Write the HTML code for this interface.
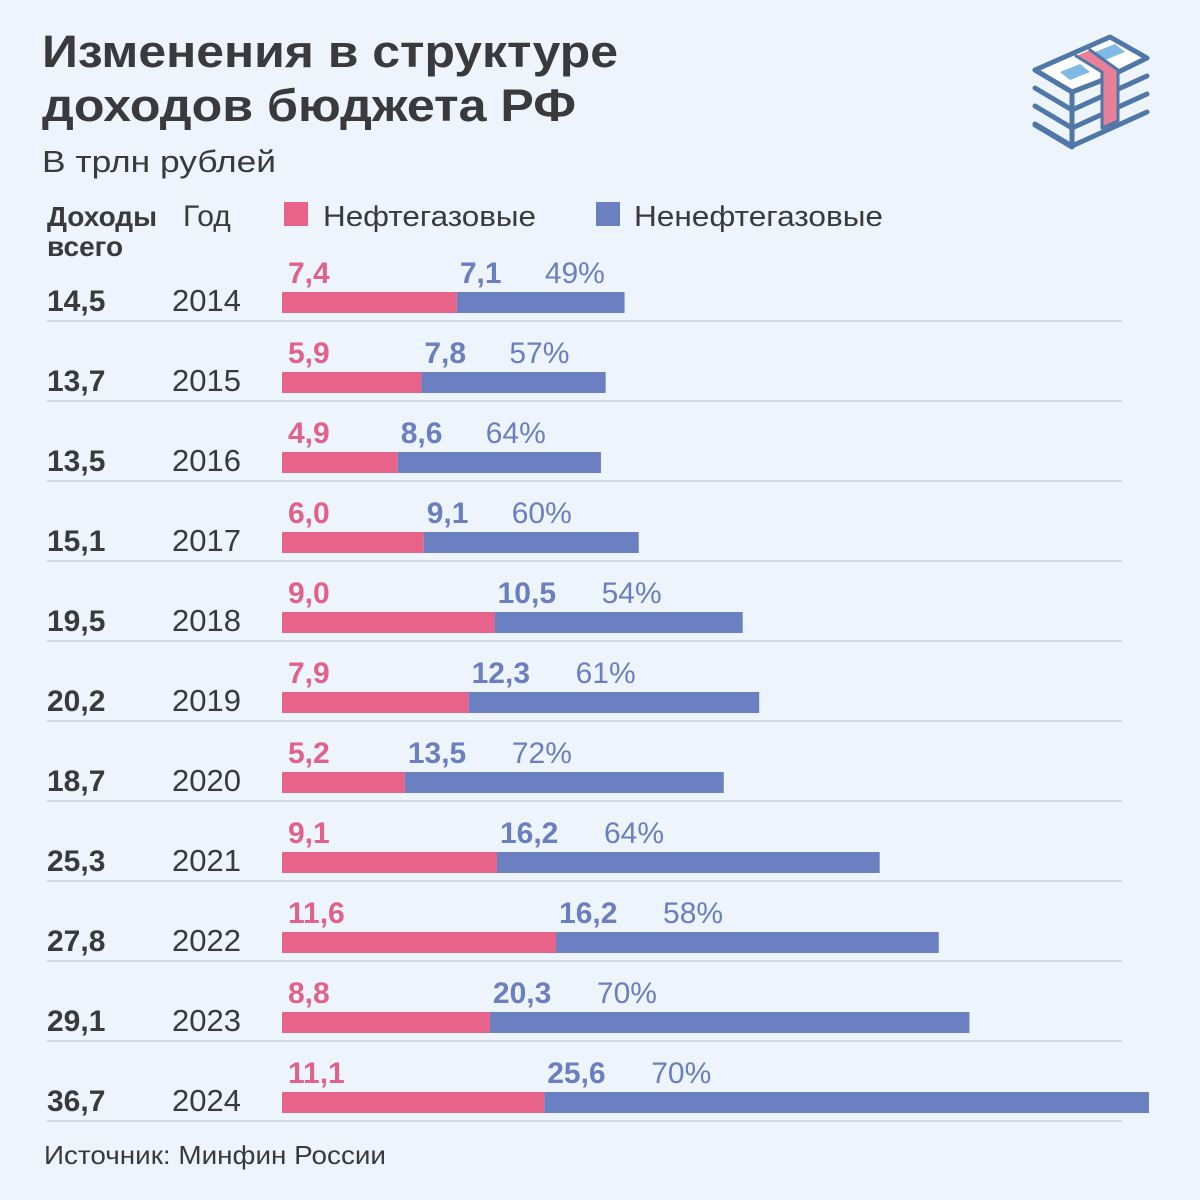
<!DOCTYPE html>
<html><head><meta charset="utf-8"><style>
body{margin:0;width:1200px;height:1200px;background:#eef4fb;overflow:hidden}
svg{display:block;font-family:"Liberation Sans",sans-serif}
</style></head><body>
<svg id="c" width="1200" height="1200">
<text x="42" y="67" font-size="45" font-weight="bold" fill="#3a3a3c" textLength="576" lengthAdjust="spacingAndGlyphs">Изменения в структуре</text>
<text x="42" y="121" font-size="45" font-weight="bold" fill="#3a3a3c" textLength="534" lengthAdjust="spacingAndGlyphs">доходов бюджета РФ</text>
<text x="42" y="172" font-size="31" fill="#3a3a3c" textLength="234" lengthAdjust="spacingAndGlyphs">В трлн рублей</text>
<g fill="none" stroke="#4f78a8" stroke-width="5" stroke-linejoin="round" stroke-linecap="round">
<path d="M1035 70 L1110 37 L1147 58 L1098 82 L1072 92 Z" fill="#fff"/>
<path d="M1060 72 L1080 64 L1090 72 L1070 80 Z" fill="#7fb9e6" stroke="none"/>
<path d="M1095 52 L1115 44 L1125 52 L1105 60 Z" fill="#7fb9e6" stroke="none"/>
<path d="M1035 70 L1072 92 L1072 147 L1035 125"/>
<path d="M1035 88 L1072 110 L1147 76"/>
<path d="M1035 106 L1072 128 L1147 94"/>
<path d="M1035 124 L1072 146 L1147 112"/>
<path d="M1072 128 L1072 92"/>
<path d="M1076 56 L1102 72 L1102 128 L1118 121 L1118 70 L1090 50" fill="#e8809a" stroke-width="3"/>
</g>
<text x="47" y="226" font-size="28" font-weight="bold" fill="#3a3a3c">Доходы</text>
<text x="47" y="256" font-size="28" font-weight="bold" fill="#3a3a3c">всего</text>
<text x="183" y="226" font-size="30" fill="#3a3a3c">Год</text>
<rect x="284" y="202" width="24" height="24" fill="#e8638a"/>
<text x="323" y="226" font-size="29" fill="#3a3a3c" textLength="213" lengthAdjust="spacingAndGlyphs">Нефтегазовые</text>
<rect x="596" y="202" width="24" height="24" fill="#6a80c0"/>
<text x="634" y="226" font-size="29" fill="#3a3a3c" textLength="249" lengthAdjust="spacingAndGlyphs">Ненефтегазовые</text>
<text x="44" y="1164" font-size="26" fill="#3a3a3c" textLength="342" lengthAdjust="spacingAndGlyphs">Источник: Минфин России</text>
</svg>
<script>
const years=["2014","2015","2016","2017","2018","2019","2020","2021","2022","2023","2024"];
const totals=["14,5","13,7","13,5","15,1","19,5","20,2","18,7","25,3","27,8","29,1","36,7"];
const oil=[7.4,5.9,4.9,6.0,9.0,7.9,5.2,9.1,11.6,8.8,11.1];
const nonOil=[7.1,7.8,8.6,9.1,10.5,12.3,13.5,16.2,16.2,20.3,25.6];
const shares=["49%","57%","64%","60%","54%","61%","72%","64%","58%","70%","70%"];
const svg=document.getElementById('c');const NS="http://www.w3.org/2000/svg";
const x0=282,scale=(1149-282)/36.7;
const xs=v=>x0+v*scale;
const rowY=i=>292+i*80;
const fmt=v=>v.toFixed(1).replace('.',',');
function el(t,a,txt){const e=document.createElementNS(NS,t);for(const k in a)e.setAttribute(k,a[k]);if(txt!==undefined)e.textContent=txt;svg.appendChild(e);return e;}
years.forEach((y,i)=>{
 const by=rowY(i);
 let e=el('line',{x1:47,x2:1122,y1:by+29,y2:by+29,stroke:'#d4dbe3','stroke-width':2});
 
 e=el('text',{x:47,y:by+19,'font-size':30,'font-weight':'bold',fill:'#3a3a3c'},totals[i]);
 
 e=el('text',{x:172,y:by+19,'font-size':31,fill:'#3a3a3c'},y);
 
 const xo=xs(oil[i]),xt=xs(oil[i]+nonOil[i]);
 e=el('rect',{x:x0,y:by,width:xo-x0,height:21,fill:'#e8638a'});
 
 e=el('rect',{x:xo,y:by,width:xt-xo,height:21,fill:'#6a80c0'});
 
 e=el('text',{x:288,y:by-9,'font-size':30,'font-weight':'bold',fill:'#e0628a'},fmt(oil[i]));
 
 const lx=xo+3;
 e=el('text',{x:lx,y:by-9,'font-size':30,'font-weight':'bold',fill:'#6a7fbf'},fmt(nonOil[i]));
 
 const w=fmt(nonOil[i]).length>3?104:85;
 e=el('text',{x:lx+w,y:by-9,'font-size':30,fill:'#6a7fbf'},shares[i]);
 
});
</script>
</body></html>
